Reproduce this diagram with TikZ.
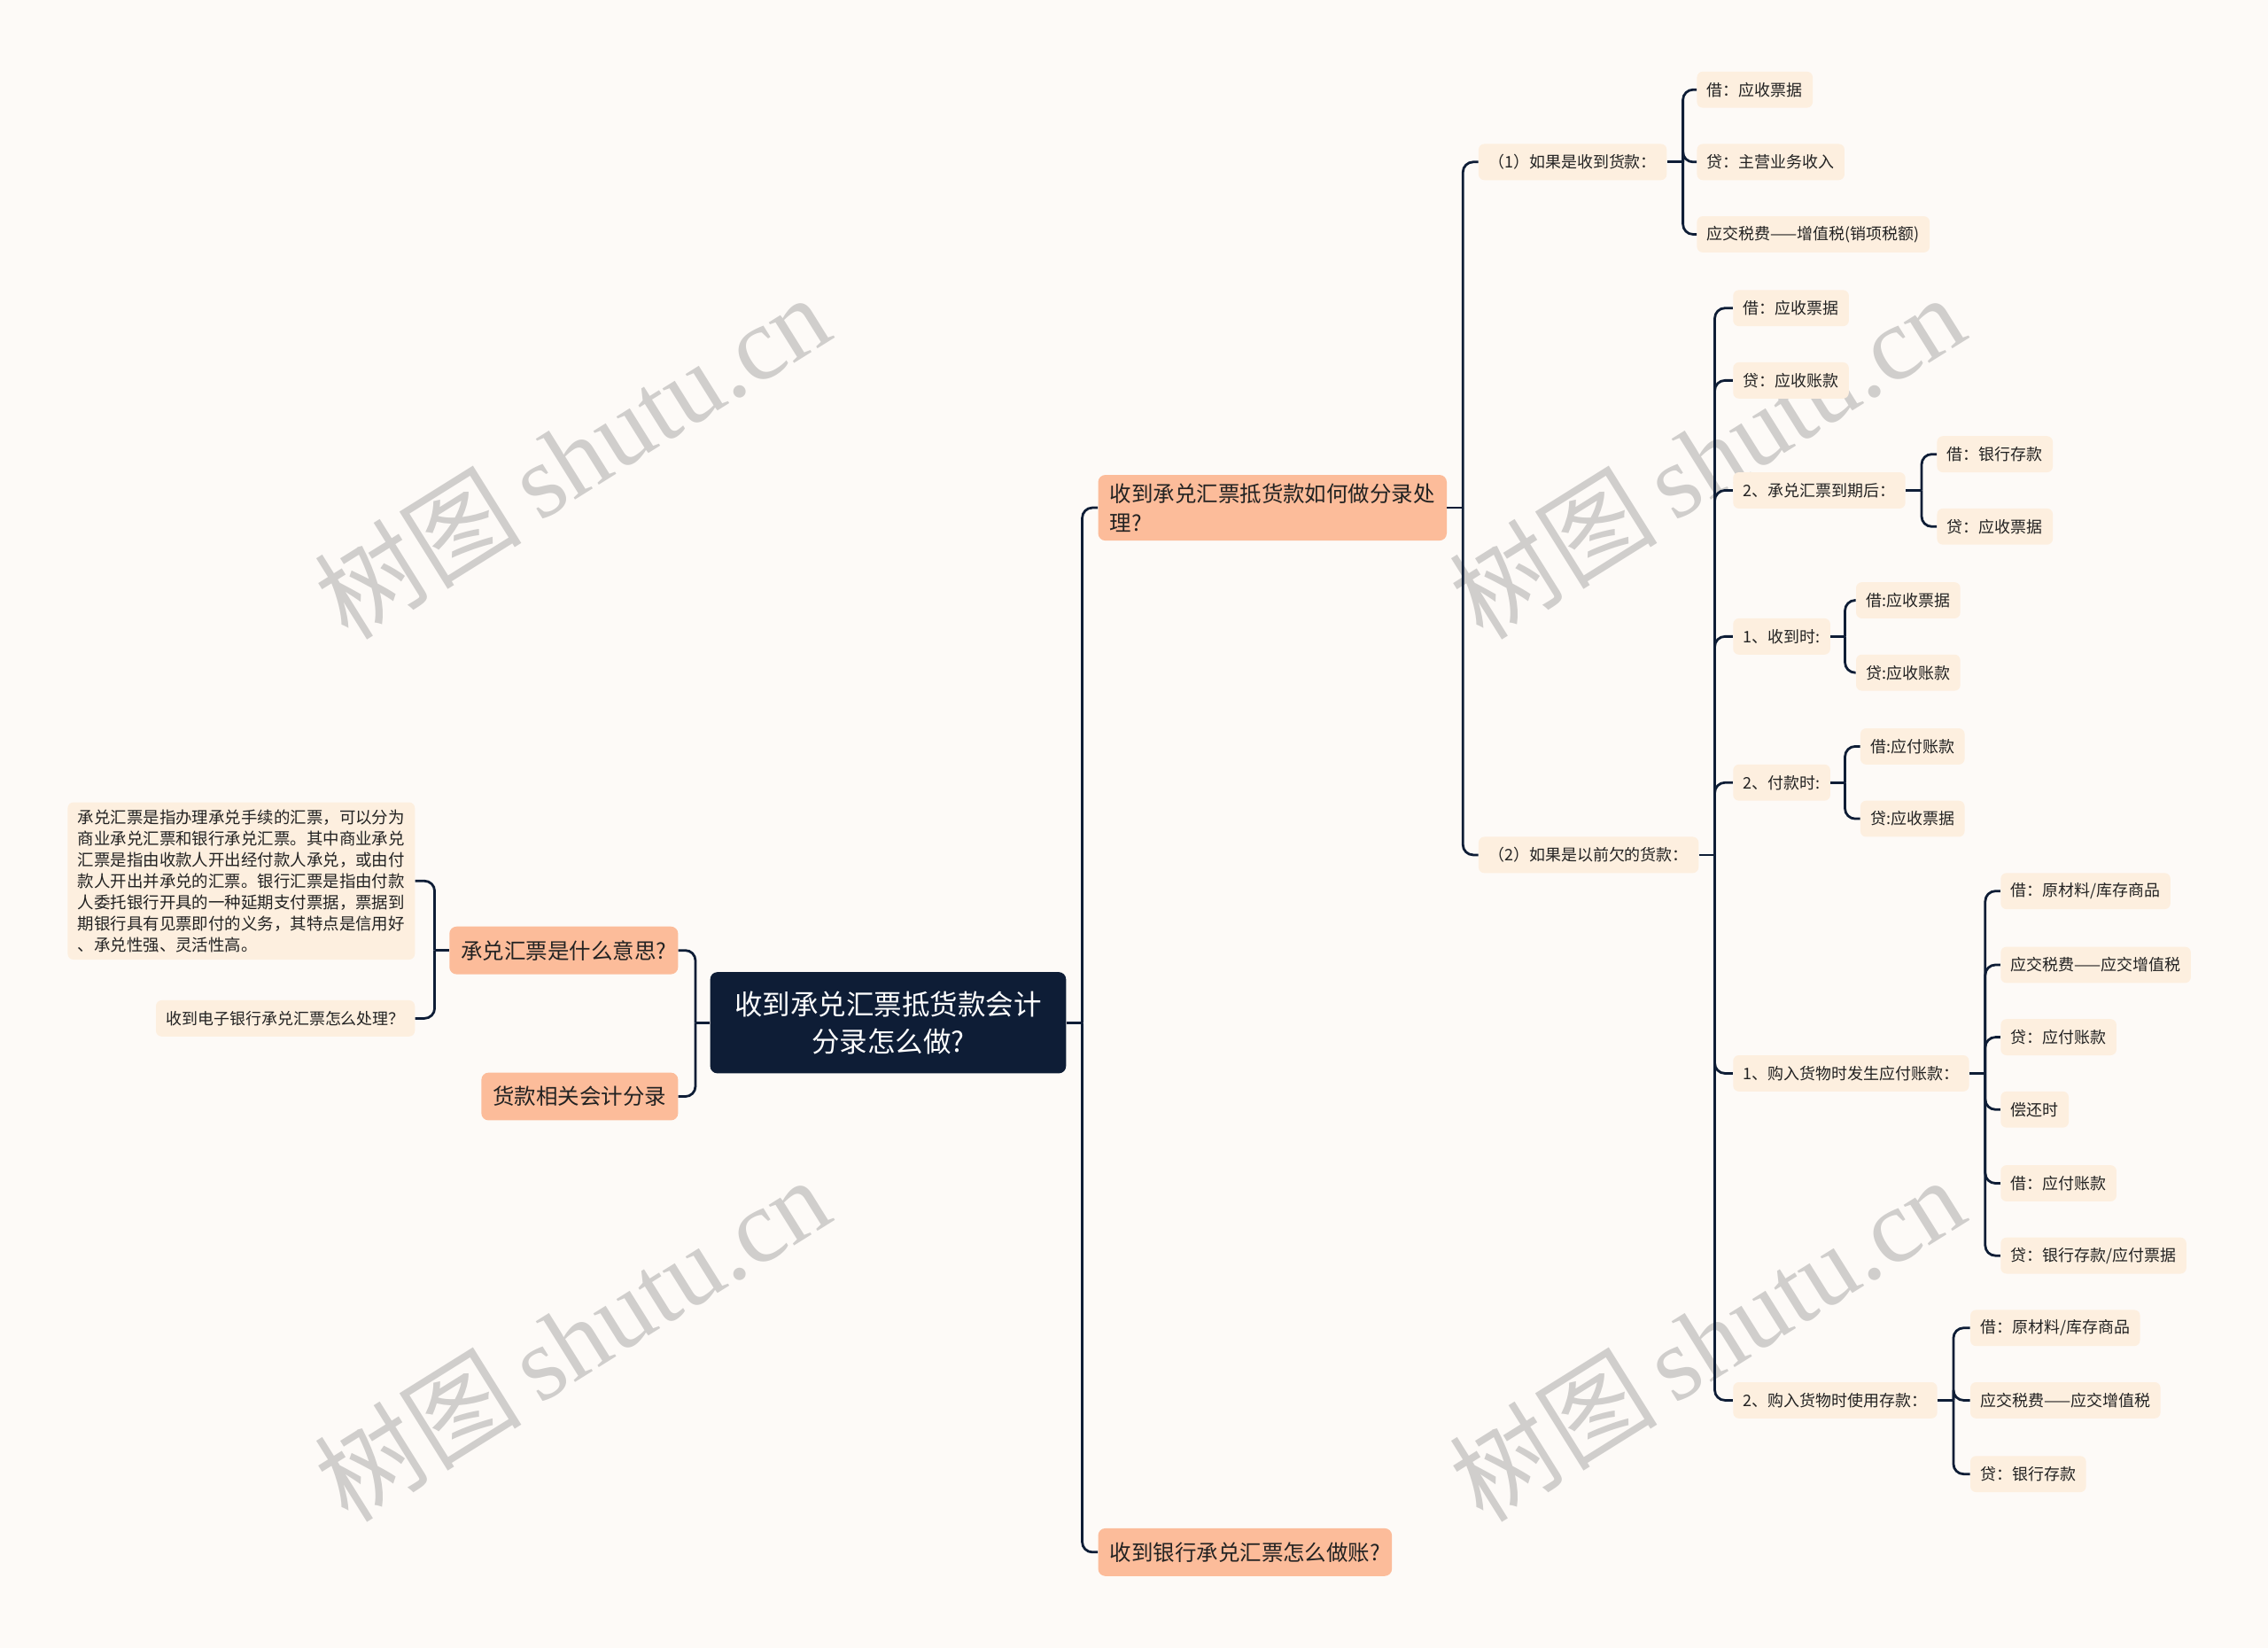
\documentclass[tikz,border=0pt]{standalone}
\usepackage{fontspec}
\setmainfont{Noto Sans CJK SC}
\newfontfamily\wmlat{Liberation Serif}
\newfontfamily\wmcjk{Noto Sans CJK SC}
\definecolor{bg}{HTML}{FDFAF7}
\definecolor{navy}{HTML}{0E1D36}
\definecolor{leaffill}{HTML}{FDEFDF}
\definecolor{mainfill}{HTML}{FCBC9A}
\definecolor{txt}{HTML}{222222}
\definecolor{wm}{HTML}{D0CECC}
\tikzset{
  conn/.style={draw=navy, line width=1.7pt, rounded corners=7pt},
  stub/.style={draw=navy, line width=1.7pt},
  leaf/.style={fill=leaffill, rounded corners=4pt, inner xsep=7pt, inner ysep=0pt, minimum height=25pt, text=txt, font=\fontsize{11}{14.7}\selectfont},
  mainbox/.style={fill=mainfill, rounded corners=5pt, inner xsep=8pt, inner ysep=6pt, minimum height=33pt, text=txt, font=\fontsize{15}{20}\selectfont},
  rootbox/.style={fill=navy, text=white, rounded corners=5pt, minimum width=246pt, minimum height=70pt, align=center, font=\fontsize{19.3}{26}\selectfont},
  wmark/.style={text=wm, rotate=32, inner sep=0pt},
}
\begin{document}
\begin{tikzpicture}[x=1pt, y=-1pt]
\useasboundingbox[fill=bg] (0,0) rectangle (1568,1139);

% watermarks
\foreach \wx/\wy [count=\i] in {395/315, 1180/315, 395/925, 1180/925}
  \node[wmark] (wm\i) at (\wx,\wy) {\fontsize{72}{76}\wmcjk 树图\,\wmlat shutu.cn};

% root
\node[rootbox] (root) at (614,707) {收到承兑汇票抵货款会计\\分录怎么做?};

% left side
\node[mainbox, anchor=east] (la) at (469,657) {承兑汇票是什么意思?};
\node[mainbox, anchor=east] (lb) at (469,758) {货款相关会计分录};
\node[leaf, anchor=east, align=left, inner xsep=7pt, inner ysep=5pt, font=\fontsize{11.3}{14.7}\selectfont] (la1) at (287,609) {承兑汇票是指办理承兑手续的汇票，可以分为\\商业承兑汇票和银行承兑汇票。其中商业承兑\\汇票是指由收款人开出经付款人承兑，或由付\\款人开出并承兑的汇票。银行汇票是指由付款\\人委托银行开具的一种延期支付票据，票据到\\期银行具有见票即付的义务，其特点是信用好\\、承兑性强、灵活性高。};
\node[leaf, anchor=east] (la2) at (287,704) {收到电子银行承兑汇票怎么处理？};

\draw[stub] (root.west) -- ++(-10,0);
\draw[conn] (root.west) ++(-10,0) |- (la.east);
\draw[conn] (root.west) ++(-10,0) |- (lb.east);
\draw[stub] (la.west) -- ++(-10,0);
\draw[conn] (la.west) ++(-10,0) |- (la1.east);
\draw[conn] (la.west) ++(-10,0) |- (la2.east);

% right side level 1
\node[mainbox, anchor=west, align=left] (r1) at (759,351) {收到承兑汇票抵货款如何做分录处\\理?};
\node[mainbox, anchor=west] (r2) at (759,1073) {收到银行承兑汇票怎么做账?};
\draw[stub] (root.east) -- ++(11,0);
\draw[conn] (root.east) ++(11,0) |- (r1.west);
\draw[conn] (root.east) ++(11,0) |- (r2.west);

% level 2
\node[leaf, anchor=west] (a) at (1022,112) {（1）如果是收到货款：};
\node[leaf, anchor=west] (b) at (1022,591) {（2）如果是以前欠的货款：};
\draw[stub] (r1.east) -- ++(11,0);
\draw[conn] (r1.east) ++(11,0) |- (a.west);
\draw[conn] (r1.east) ++(11,0) |- (b.west);

% children of a
\node[leaf, anchor=west] (a1) at (1173,62) {借：应收票据};
\node[leaf, anchor=west] (a2) at (1173,112) {贷：主营业务收入};
\node[leaf, anchor=west] (a3) at (1173,162) {应交税费——增值税(销项税额)};
\draw[stub] (a.east) -- ++(11,0);
\foreach \c in {a1,a2,a3} \draw[conn] (a.east) ++(11,0) |- (\c.west);

% children of b
\node[leaf, anchor=west] (b1) at (1198,213) {借：应收票据};
\node[leaf, anchor=west] (b2) at (1198,263) {贷：应收账款};
\node[leaf, anchor=west] (b3) at (1198,339) {2、承兑汇票到期后：};
\node[leaf, anchor=west] (b4) at (1198,440) {1、收到时:};
\node[leaf, anchor=west] (b5) at (1198,541) {2、付款时:};
\node[leaf, anchor=west] (b6) at (1198,742) {1、购入货物时发生应付账款：};
\node[leaf, anchor=west] (b7) at (1198,968) {2、购入货物时使用存款：};
\draw[stub] (b.east) -- ++(11,0);
\foreach \c in {b1,b2,b3,b4,b5,b6,b7} \draw[conn] (b.east) ++(11,0) |- (\c.west);

% b3 children
\node[leaf, anchor=west] (b31) at (1339,314) {借：银行存款};
\node[leaf, anchor=west] (b32) at (1339,364) {贷：应收票据};
\draw[stub] (b3.east) -- ++(11,0);
\foreach \c in {b31,b32} \draw[conn] (b3.east) ++(11,0) |- (\c.west);

% b4 children
\node[leaf, anchor=west] (b41) at (1283,415) {借:应收票据};
\node[leaf, anchor=west] (b42) at (1283,465) {贷:应收账款};
\draw[stub] (b4.east) -- ++(10,0);
\foreach \c in {b41,b42} \draw[conn] (b4.east) ++(10,0) |- (\c.west);

% b5 children
\node[leaf, anchor=west] (b51) at (1286,516) {借:应付账款};
\node[leaf, anchor=west] (b52) at (1286,566) {贷:应收票据};
\draw[stub] (b5.east) -- ++(10,0);
\foreach \c in {b51,b52} \draw[conn] (b5.east) ++(10,0) |- (\c.west);

% b6 children
\node[leaf, anchor=west] (b61) at (1383,616) {借：原材料/库存商品};
\node[leaf, anchor=west] (b62) at (1383,667) {应交税费——应交增值税};
\node[leaf, anchor=west] (b63) at (1383,717) {贷：应付账款};
\node[leaf, anchor=west] (b64) at (1383,767) {偿还时};
\node[leaf, anchor=west] (b65) at (1383,818) {借：应付账款};
\node[leaf, anchor=west] (b66) at (1383,868) {贷：银行存款/应付票据};
\draw[stub] (b6.east) -- ++(11,0);
\foreach \c in {b61,b62,b63,b64,b65,b66} \draw[conn] (b6.east) ++(11,0) |- (\c.west);

% b7 children
\node[leaf, anchor=west] (b71) at (1362,918) {借：原材料/库存商品};
\node[leaf, anchor=west] (b72) at (1362,968) {应交税费——应交增值税};
\node[leaf, anchor=west] (b73) at (1362,1019) {贷：银行存款};
\draw[stub] (b7.east) -- ++(11,0);
\foreach \c in {b71,b72,b73} \draw[conn] (b7.east) ++(11,0) |- (\c.west);
\end{tikzpicture}
\end{document}
